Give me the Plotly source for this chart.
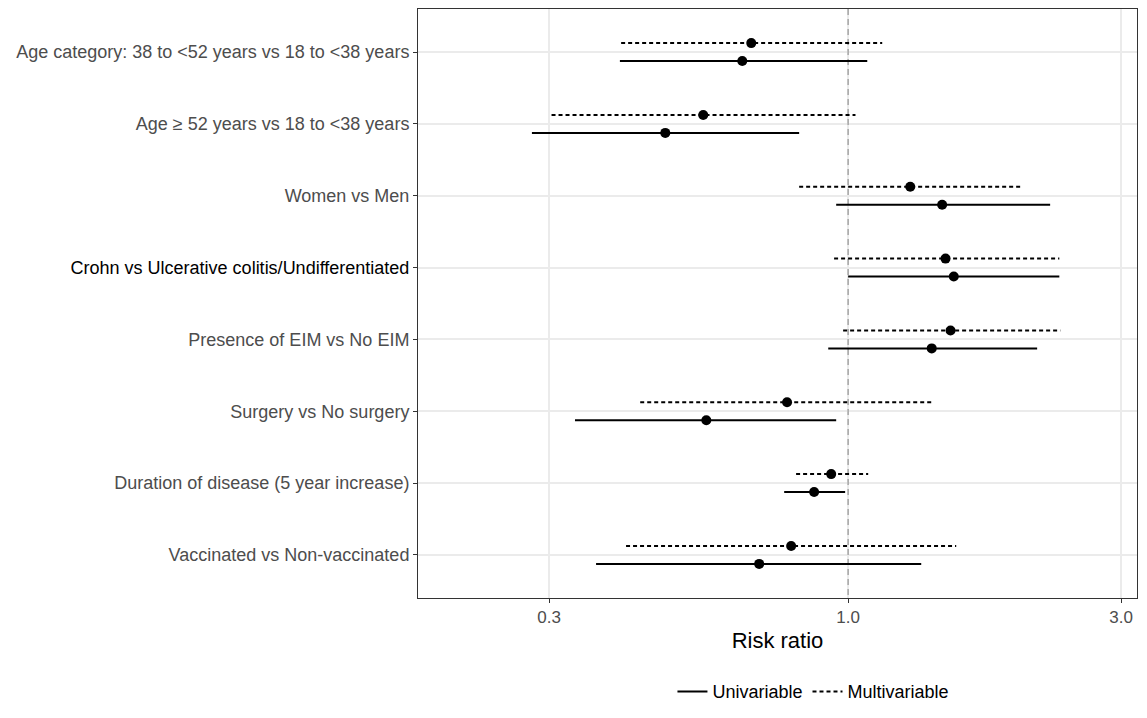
import plotly.graph_objects as go

categories = [
    "Age category: 38 to <52 years vs 18 to <38 years",
    "Age ≥ 52 years vs 18 to <38 years",
    "Women vs Men",
    "Crohn vs Ulcerative colitis/Undifferentiated",
    "Presence of EIM vs No EIM",
    "Surgery vs No surgery",
    "Duration of disease (5 year increase)",
    "Vaccinated vs Non-vaccinated",
]

# Univariable estimates (solid)
uni_rr = [0.653, 0.479, 1.46, 1.53, 1.40, 0.565, 0.872, 0.699]
uni_lo = [0.399, 0.280, 0.953, 1.00, 0.923, 0.333, 0.773, 0.3625]
uni_hi = [1.08, 0.821, 2.255, 2.34, 2.14, 0.953, 0.988, 1.342]

# Multivariable estimates (dotted)
multi_rr = [0.677, 0.558, 1.284, 1.48, 1.51, 0.782, 0.934, 0.795]
multi_lo = [0.401, 0.303, 0.821, 0.945, 0.98, 0.433, 0.811, 0.409]
multi_hi = [1.147, 1.03, 2.02, 2.34, 2.35, 1.41, 1.084, 1.545]

x_ticks = [0.3, 1.0, 3.0]
x_tick_labels = ["0.3", "1.0", "3.0"]

FONT = "Liberation Sans, Arial, Helvetica, sans-serif"
DODGE = 0.125

fig = go.Figure()

# reference line at RR = 1
fig.add_trace(go.Scatter(
    x=[1, 1], y=[0.4, len(categories) + 0.6], mode="lines",
    line=dict(color="#a6a6a6", width=1.5, dash="6px,4px"),
    showlegend=False, hoverinfo="skip"))

def seg_arrays(lo, hi, ys):
    xs, yy = [], []
    for a, b, y in zip(lo, hi, ys):
        xs += [a, b, None]
        yy += [y, y, None]
    return xs, yy

pos = list(range(1, len(categories) + 1))
y_uni = [p + DODGE for p in pos]
y_multi = [p - DODGE for p in pos]

for name, lo, hi, rr, ys, dash in [
    ("Univariable", uni_lo, uni_hi, uni_rr, y_uni, "solid"),
    ("Multivariable", multi_lo, multi_hi, multi_rr, y_multi, "4px,3px"),
]:
    xs, yy = seg_arrays(lo, hi, ys)
    fig.add_trace(go.Scatter(
        x=xs, y=yy, mode="lines", name=name,
        line=dict(color="black", width=2, dash=dash),
        showlegend=True, legendgroup=name))
    fig.add_trace(go.Scatter(
        x=rr, y=ys, mode="markers",
        marker=dict(color="black", size=10),
        showlegend=False, legendgroup=name))

ticktext = []
for c in categories:
    if c.startswith("Crohn"):
        ticktext.append('<span style="color:black">' + c + '</span>')
    else:
        ticktext.append(c)

fig.update_layout(
    width=1131, height=702,
    margin=dict(l=410, r=2, t=1, b=112, autoexpand=False),
    paper_bgcolor="white", plot_bgcolor="white",
    font=dict(family=FONT, size=18, color="#4d4d4d"),
    xaxis=dict(
        type="log", range=[-0.752, 0.505],
        tickvals=x_ticks, ticktext=x_tick_labels,
        showgrid=True, gridcolor="#ebebeb", gridwidth=1.5,
        ticks="outside", ticklen=4, tickcolor="#333333", tickwidth=1,
        showline=True, linecolor="#333333", linewidth=1, mirror=True,
        zeroline=False,
        tickfont=dict(size=17, color="#4d4d4d"),
        title=dict(text="Risk ratio", font=dict(size=22, color="black"), standoff=6),
    ),
    yaxis=dict(
        range=[len(categories) + 0.6, 0.4],
        tickvals=pos, ticktext=ticktext,
        showgrid=True, gridcolor="#ebebeb", gridwidth=1.5,
        ticks="outside", ticklen=4, tickcolor="#333333", tickwidth=1,
        showline=True, linecolor="#333333", linewidth=1, mirror=True,
        zeroline=False,
        tickfont=dict(size=18, color="#4d4d4d"),
    ),
    legend=dict(
        orientation="h", xref="paper", x=0.55, xanchor="center",
        yref="container", y=0.026, yanchor="middle",
        font=dict(size=18, color="black"), bgcolor="rgba(0,0,0,0)",
        itemwidth=30,
    ),
    showlegend=True,
)

fig.write_html("out.html")
